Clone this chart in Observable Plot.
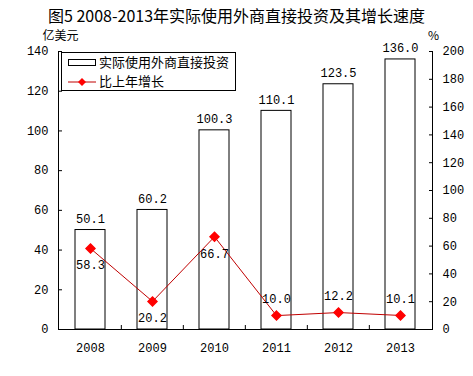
<!DOCTYPE html>
<html><head><meta charset="utf-8">
<script src="https://cdn.jsdelivr.net/npm/d3@7"></script>
<script src="https://cdn.jsdelivr.net/npm/@observablehq/plot@0.6"></script>
<style>
body{margin:0;background:#fff;}
#wrap{position:relative;width:473px;height:376px;background:#fff;overflow:hidden;}
#title{position:absolute;left:0;top:4px;width:473px;height:22px;line-height:22px;text-align:center;font-size:16px;font-family:"Noto Sans CJK SC",sans-serif;color:#000;white-space:nowrap;}
#legend{position:absolute;left:61px;top:52px;width:173px;height:37px;border:1px solid #000;background:#fff;font-size:13px;font-family:"Noto Sans CJK SC",sans-serif;color:#000;}
#legend .sw{position:absolute;left:6px;}
#legend .lab{position:absolute;left:37px;line-height:16px;white-space:nowrap;}
</style></head>
<body><div id="wrap"><div id="chart"></div><div id="title"></div><div id="legend"></div></div>
<script>
const titleText = "图5 2008-2013年实际使用外商直接投资及其增长速度";
const years = ["2008", "2009", "2010", "2011", "2012", "2013"];
const investment = [50.1, 60.2, 100.3, 110.1, 123.5, 136.0];
const growth = [58.3, 20.2, 66.7, 10.0, 12.2, 10.1];
const leftTicks = [0, 20, 40, 60, 80, 100, 120, 140];
const rightTicks = [0, 20, 40, 60, 80, 100, 120, 140, 160, 180, 200];
const leftUnit = "亿美元";
const rightUnit = "%";
const seriesNames = ["实际使用外商直接投资", "比上年增长"];

document.getElementById("title").textContent = titleText;

const W = 473, H = 376, mL = 58, mR = 41, mT = 51, mB = 47;
const step = (W - mL - mR) / years.length;
const leftMax = leftTicks[leftTicks.length - 1];
const rightMax = rightTicks[rightTicks.length - 1];
const k = leftMax / rightMax;
const rows = years.map((y, i) => ({year: y, inv: investment[i], g: growth[i], gy: growth[i] * k}));
const below = new Set(years.slice(0, 3));
const lineColor = "#C00000", dotColor = "#FF0000";

const chart = Plot.plot({
  width: W, height: H,
  marginLeft: mL, marginRight: mR, marginTop: mT, marginBottom: mB,
  style: {fontFamily: '"Liberation Mono", monospace', fontSize: "12px", background: "#fff", color: "#000"},
  x: {type: "band", domain: years, paddingInner: 0.52, paddingOuter: 0.26, label: null},
  y: {domain: [0, leftMax], label: null},
  marks: [
    Plot.barY(rows, {x: "year", y: "inv", fill: "#fff", stroke: "#000", strokeWidth: 1}),
    Plot.axisY({anchor: "left", ticks: leftTicks, tickSize: -4, tickPadding: 14, label: null}),
    Plot.axisY({anchor: "right", ticks: rightTicks.map(t => t * k), tickFormat: d => String(Math.round(d / k)), tickSize: -4, tickPadding: 14, label: null}),
    Plot.axisX({ticks: years.slice(1), tickSize: -4, tickFormat: () => "", dx: -step / 2, label: null}),
    Plot.axisX({tickSize: 0, tickPadding: 14, label: null}),
    Plot.ruleY([0]),
    Plot.frame({anchor: "left"}),
    Plot.frame({anchor: "right"}),
    Plot.line(rows, {x: "year", y: "gy", stroke: lineColor, strokeWidth: 1}),
    Plot.dot(rows, {x: "year", y: "gy", symbol: "diamond2", r: 4, fill: dotColor, stroke: dotColor}),
    Plot.text(rows, {x: "year", y: "inv", text: d => d.inv.toFixed(1), dy: -11}),
    Plot.text(rows, {filter: d => below.has(d.year), x: "year", y: "gy", text: d => d.g.toFixed(1), dy: 17}),
    Plot.text(rows, {filter: d => !below.has(d.year), x: "year", y: "gy", text: d => d.g.toFixed(1), dy: -16}),
    Plot.text([leftUnit], {frameAnchor: "top-left", textAnchor: "middle", lineAnchor: "middle", text: d => d, dx: 2, dy: -15, fontFamily: '"Noto Sans CJK SC", sans-serif'}),
    Plot.text([rightUnit], {frameAnchor: "top-right", textAnchor: "middle", lineAnchor: "middle", text: d => d, dx: 1, dy: -15, fontFamily: '"Noto Sans CJK SC", sans-serif'})
  ]
});
document.getElementById("chart").appendChild(chart);

const lg = document.getElementById("legend");
lg.innerHTML =
  `<svg class="sw" style="top:6px" width="28" height="8"><rect x="0.5" y="0.5" width="27" height="6" fill="#fff" stroke="#000"/></svg>` +
  `<div class="lab" style="top:1px"></div>` +
  `<svg class="sw" style="top:24px" width="28" height="10"><line x1="0" x2="28" y1="5" y2="5" stroke="${lineColor}"/><path d="M14,1L18,5L14,9L10,5Z" fill="${dotColor}"/></svg>` +
  `<div class="lab" style="top:20px"></div>`;
const labs = lg.querySelectorAll(".lab");
labs[0].textContent = seriesNames[0];
labs[1].textContent = seriesNames[1];
</script>
</body></html>
